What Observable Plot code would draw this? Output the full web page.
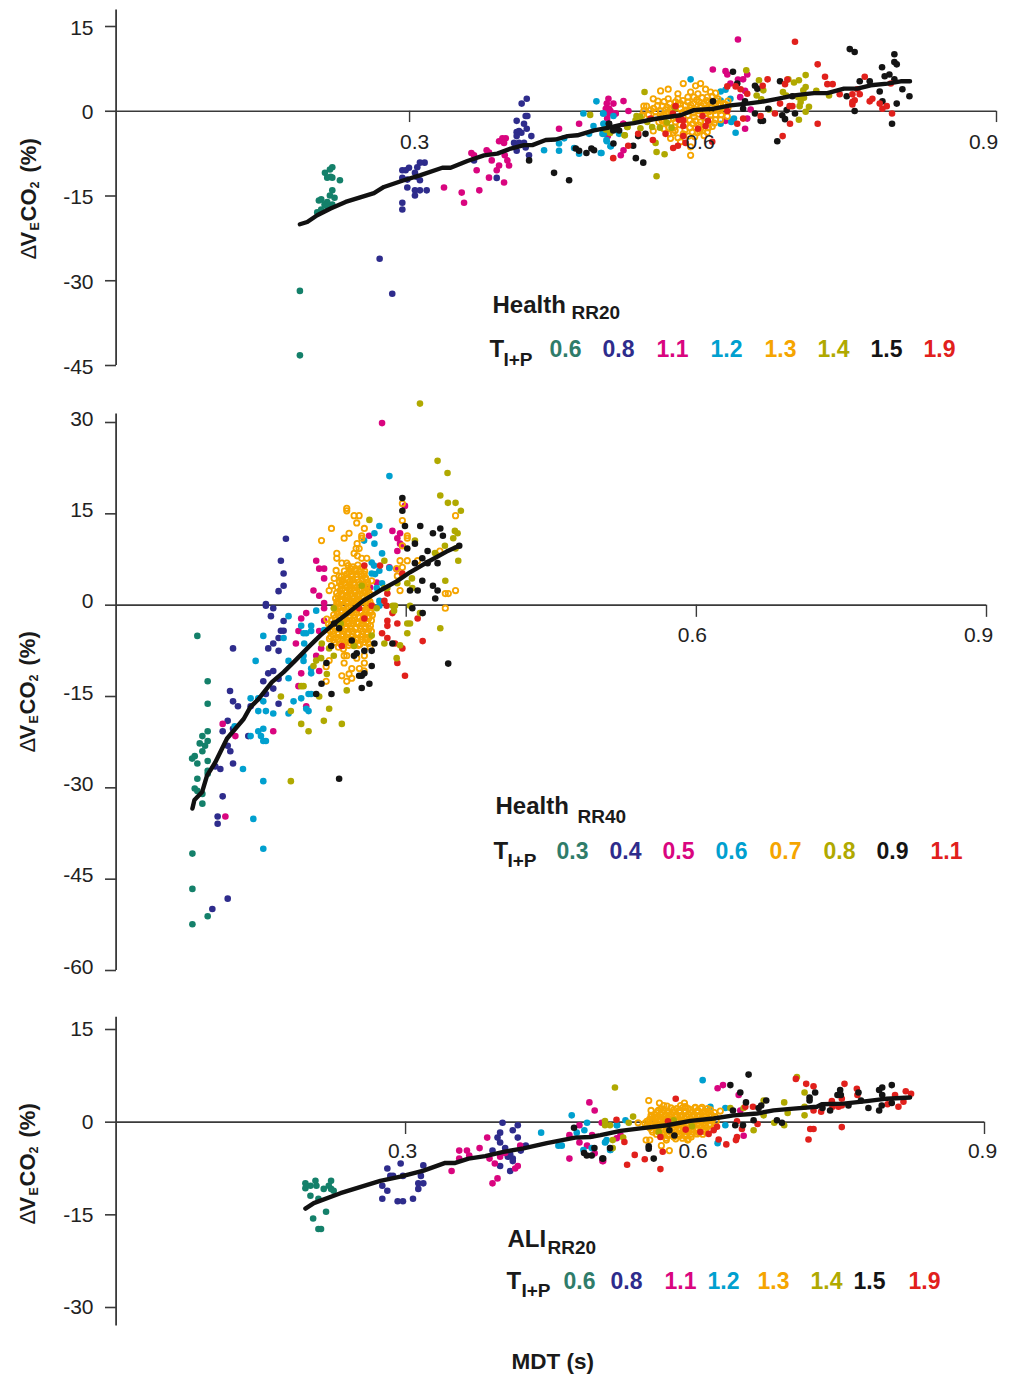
<!DOCTYPE html>
<html><head><meta charset="utf-8">
<script src="https://cdn.jsdelivr.net/npm/d3@7"></script>
<script src="https://cdn.jsdelivr.net/npm/@observablehq/plot@0.6"></script>
<style>
html,body{margin:0;padding:0;background:#fff}
#chart{width:1012px;height:1374px;overflow:hidden}
#chart svg{display:block}
</style></head><body><div id="chart"></div>
<script>
const FONT = '"Liberation Sans", Arial, sans-serif';
const colTeal="#14806a", colNavy="#2e2c8c", colPink="#d9057f", colBlue="#00a0cf", colOrange="#f5a500", colOlive="#b0a900", colBlack="#141414", colRed="#e1201c";
const labelTeal="#2f7c6a";

// ---------- Panel 1: Health RR20 ----------
const h20Teal=[[.221,-9.9],[.2186,-10.3],[.2135,-10.9],[.2193,-11.6],[.2158,-11.75],[.221,-11.75],[.2288,-12.2],[.221,-14],[.2186,-14.9],[.2233,-15.3],[.2097,-15.6],[.2073,-15.8],[.2158,-16.05],[.2131,-16.5],[.221,-16.5],[.2158,-16.9],[.2097,-17.4],[.2056,-17.9],[.1879,-31.8],[.1879,-43.2]];
const h20Navy=[[.4198,2.2],[.4146,1.35],[.4187,-.83],[.4204,-.83],[.4095,-1.7],[.417,-2.2],[.4198,-3.1],[.4119,-3.5],[.4095,-3.7],[.4143,-3.8],[.4095,-4.4],[.4245,-4.4],[.4068,-5.6],[.4119,-5.6],[.417,-5.6],[.4187,-6.4],[.4095,-7],[.4221,-7.8],[.3659,-8.7],[.3891,-11.8],[.3154,-9.1],[.3106,-9.1],[.3079,-9.9],[.2994,-10],[.296,-10.45],[.2926,-10.45],[.3055,-10.9],[.2926,-11.8],[.3072,-11.6],[.3106,-12.2],[.2977,-12.1],[.2977,-13.5],[.3055,-14],[.3106,-14],[.3175,-14],[.3055,-14.9],[.2926,-16.2],[.2926,-17.4],[.2694,-26.1],[.2823,-32.3]];
const h20Pink=[[.3949,-4.8],[.3915,-5.3],[.3983,-4.8],[.3966,-5.6],[.3632,-7.4],[.3659,-7.8],[.3788,-6.9],[.3812,-7.3],[.384,-8.7],[.3973,-7.8],[.4,-8.7],[.4017,-9.6],[.3915,-9.6],[.3891,-10.45],[.3686,-10.45],[.3812,-11.75],[.3966,-12.6],[.3352,-13.5],[.3533,-14.4],[.3713,-14],[.3557,-16.2],[.4528,-3.1],[.4733,-2.2],[.5033,2.2],[.5016,1.35],[.5006,.45],[.5084,1.35],[.5187,1.8],[.504,-.4],[.5108,-.4],[.5238,.05],[.5187,-2.2],[.5159,-7.8],[.5187,-6.9],[.504,.45],[.6357,12.7],[.61,7.4],[.623,7.1],[.6248,6.5],[.6357,5.6],[.641,5.65],[.6452,6.5],[.628,4.9],[.638,2.5],[.643,3.6],[.6452,-1.3],[.643,-3.1],[.6487,.3],[.623,-1.7],[.5054,.05],[.5105,-.4],[.502,-1.3],[.5184,-2.2],[.5027,-4.4]];
const h20Blue=[[.491,1.75],[.4777,-.4],[.4982,-.4],[.5084,-.83],[.488,-2.6],[.458,-4.8],[.4528,-5.7],[.4528,-7],[.4375,-6.9],[.4682,-6.5],[.4733,-7.5],[.4955,-7.4],[.4972,-4],[.4835,-4],[.5016,-5.3],[.5057,-6.2],[.4982,-2.2],[.5142,-4],[.5873,5.65],[.4979,-.4],[.4986,-2.2],[.4986,-4],[.5013,-5.1],[.5054,-6.2],[.4962,-7.4],[.514,-3.7],[.618,1.9],[.623,3.8],[.618,3.5],[.628,2.2],[.6316,-1.3],[.6289,-1.9],[.618,-2.2],[.6333,-3.8],[.6299,-1.6]];
const h20Orange=[[.5798,4.9],[.5975,4.9],[.5924,4.5],[.5644,3.9],[.5566,3.6],[.6026,3.9],[.5873,3.4],[.5743,3.1],[.6077,3.4],[.6128,3.2],[.5948,3.1],[.5491,2.2],[.5644,2.2],[.5743,2.2],[.5845,2.5],[.5907,2.5],[.5992,2.4],[.6043,2.5],[.6094,2.65],[.6152,2.2],[.6255,1.8],[.5395,.9],[.5423,.9],[.5539,1.8],[.5583,.9],[.5661,1.35],[.5719,1.65],[.577,1.35],[.5845,1.65],[.59,1.35],[.5958,1.65],[.601,1.35],[.606,1.65],[.6111,1.35],[.6207,1.35],[.5464,.2],[.5515,-.1],[.5566,.05],[.5617,.3],[.5668,.45],[.577,.45],[.5822,.2],[.5873,.6],[.5924,.3],[.5975,.6],[.6036,.45],[.6084,.6],[.6146,.45],[.6197,.6],[.6255,.6],[.5395,.05],[.5515,-1],[.5573,-1],[.5627,-.5],[.5685,-.7],[.5845,-.7],[.5907,-1],[.5958,-.5],[.6026,-.4],[.6077,-.7],[.6128,-.6],[.6186,-.6],[.6248,-.9],[.5378,-.7],[.5549,-1.9],[.5617,-2.1],[.5719,-1.9],[.5866,-1.6],[.5924,-1.7],[.5975,-1.9],[.6077,-1.5],[.6128,-1.5],[.618,-1.5],[.5491,-3.5],[.56,-3.1],[.5651,-2.9],[.5709,-2.8],[.5866,-2.9],[.5924,-2.9],[.5975,-3.1],[.6094,-2.7],[.5651,-4],[.5695,-3.8],[.5743,-4.7],[.5668,-4.8],[.5798,-4],[.589,-3.7],[.5941,-3.8],[.6043,-3.7],[.601,-4.3],[.5873,-7.8],[.577,-5.4],[.5873,-6.3],
[.5535,1],[.5602,1.7],[.5635,.7],[.5702,.8],[.5745,1.2],[.5795,1.9],[.582,1],[.5875,1.1],[.5935,2],[.598,1],[.6035,1.9],[.6085,1],[.6135,1.9],[.618,1.1],[.623,1.2],[.5445,-.6],[.5495,.5],[.5595,-.6],[.5645,-.1],[.5735,-.3],[.5795,-.2],[.5855,.1],[.5905,-.3],[.5955,.1],[.6005,.1],[.606,-.1],[.611,.1],[.6165,.1],[.622,.1],[.558,-1.6],[.565,-1.5],[.5695,-1.3],[.5765,-2.4],[.582,-2.3],[.5895,-2.2],[.5955,-2.4],[.602,-2],[.6055,-2.9],[.6115,-2.1],[.5715,-3.4],[.5815,-3.3],[.5965,-3.5],[.6,-3.3],[.5855,-4.4],[.5915,-4.5]];
const h20Olive=[[.4846,-.65],[.5006,-3.25],[.505,-3.84],[.5228,-2.8],[.52,-4.25],[.5402,3.4],[.532,-.83],[.536,-1],[.531,-1.6],[.5225,-2.8],[.536,-3],[.5198,-4.25],[.543,-1.9],[.548,-2.8],[.5559,-2.9],[.563,-2],[.5678,-2.9],[.571,.6],[.5515,-5.6],[.5525,-7.2],[.5607,-7.6],[.5525,-11.5],[.6442,7.25],[.6572,5.5],[.6616,3.7],[.6548,2.8],[.6596,2.1],[.6674,.3],[.6872,5.65],[.693,5.1],[.698,5.5],[.7049,6.4],[.7049,4.3],[.7025,3.7],[.6817,3.4],[.6851,2.8],[.6974,2.5],[.7032,2.4],[.6998,1.65],[.6988,.9],[.7083,.8],[.7049,-.1],[.698,-1.5],[.7158,3.6],[.7288,2.8]];
const h20Black=[[.4222,-8.7],[.4477,-10.9],[.4631,-12.2],[.4699,-6.6],[.4733,-7],[.4808,-7.4],[.4859,-6.6],[.4886,-6.9],[.5084,-5.7],[.504,-2.2],[.5091,-3.1],[.5142,-3.4],[.5037,-2.2],[.5082,-3.4],[.5122,-3.1],[.5286,-6.1],[.5337,-4.4],[.5412,-4],[.5313,-8.3],[.5389,-9.1],[.6101,1.75],[.6306,7],[.635,4.9],[.6429,1.75],[.641,.45],[.6531,4.5],[.6555,4],[.6531,-.4],[.6589,-1.7],[.6613,-1.7],[.6667,.45],[.6787,5.3],[.6913,2.65],[.6855,.2],[.681,-.7],[.6838,-1.4],[.694,-.4],[.6759,-5.3],[.75,11],[.755,10.5],[.7602,5.3],[.7704,5.3],[.7469,2.65],[.755,.05],[.7806,3.5],[.7834,1.75],[.783,7.8],[.7857,6.2],[.7905,6.5],[.7956,10.1],[.7956,8.7],[.798,8.3],[.7956,5.65],[.8038,3.9],[.798,1.35],[.811,2.65],[.7932,-2.2]];
const h20Red=[[.694,12.3],[.7172,8.3],[.7247,6.1],[.7271,4.8],[.7325,4.8],[.7653,6.1],[.666,5.65],[.6838,4.8],[.6862,5.6],[.661,4.5],[.6248,4.4],[.6333,4.4],[.6384,3.9],[.6452,3.1],[.6787,1.35],[.6885,.9],[.6913,.9],[.6735,-.4],[.6589,-.83],[.6889,-2.2],[.7172,-2.2],[.6814,-4.4],[.641,-1.3],[.635,-2.2],[.6248,.05],[.7397,3],[.7527,3],[.7602,3],[.7527,1.65],[.755,1.95],[.7527,1.2],[.7704,1.75],[.7731,2.2],[.7578,3.9],[.7806,1.35],[.7834,.45],[.7878,.9],[.7932,-.4],[.7919,4.9],[.5719,.9],[.5692,-.4],[.5753,-1.5],[.5798,-1.6],[.5798,-2.6],[.577,-1],[.5995,-.83],[.605,-1.7],[.6026,-2.6],[.5948,-3.1],[.5617,-4],[.5798,-4.4],[.5487,-5.1],[.5743,-6.1],[.5695,-6.5],[.5464,-1.3],[.5337,-4],[.5235,-6.1],[.5082,-8.3],[.6094,-5.4],[.5822,-5.6]];
const h20Line=[[.1879,-20],[.1954,-19.6],[.2056,-18.4],[.2193,-17.2],[.2346,-16.05],[.2636,-14.5],[.2738,-13.4],[.2926,-12.3],[.3113,-11.3],[.3335,-10],[.342,-10],[.3591,-8.8],[.3761,-7.8],[.3897,-7.5],[.4034,-6.6],[.417,-6],[.4255,-6],[.4392,-5.1],[.4494,-5],[.4614,-4.4],[.4716,-4.25],[.4886,-3.4],[.504,-2.9],[.5159,-2.4],[.5293,-2.1],[.5429,-1.6],[.56,-1.1],[.577,-.7],[.5907,.2],[.6111,.45],[.6282,1.05],[.6452,1.35],[.6589,1.65],[.676,2.2],[.693,2.8],[.7134,3.2],[.7271,3.2],[.7441,4],[.7578,4],[.7714,4.6],[.7885,4.9],[.8021,5.3],[.8116,5.3]];

// ---------- Panel 2: Health RR40 ----------
const h40Teal=[[.084,-5.05],[.0947,-12.5],[.0947,-16.2],[.0947,-20.7],[.0892,-21.5],[.0947,-22.3],[.0865,-22.7],[.092,-23.1],[.0892,-24],[.0813,-24.8],[.0786,-25.2],[.084,-26],[.0947,-25.6],[.0947,-27.2],[.0947,-27.7],[.084,-28.5],[.0813,-30.1],[.084,-30.5],[.0892,-31],[.0892,-32.6],[.0789,-40.8],[.0789,-46.6],[.0947,-51.1],[.0789,-52.4]];
const h40Navy=[[.1756,10.9],[.1704,7.3],[.1732,5.2],[.1732,3.2],[.168,2.3],[.1549,.2],[.1549,-.1],[.1625,-.5],[.1601,-1.8],[.1732,-2.6],[.1704,-4.2],[.1732,-4.2],[.168,-5.4],[.1625,-6.3],[.1573,-7.1],[.168,-7.5],[.1209,-7.1],[.1625,-10.8],[.1573,-11.2],[.1522,-12.5],[.168,-12.1],[.1625,-13.7],[.1549,-14.6],[.1178,-14.1],[.1209,-15.8],[.126,-16.6],[.168,-16.2],[.1391,-16.6],[.1154,-19],[.1102,-20.7],[.1209,-20.3],[.1367,-21.5],[.1154,-23.1],[.1181,-24],[.1209,-26],[.1078,-26.9],[.1026,-26.5],[.1102,-31.4],[.105,-34.7],[.105,-35.9],[.1154,-48.2],[.0995,-49.9]];
const h40Pink=[[.275,29.9],[.2987,16.3],[.2616,11.4],[.2857,12.2],[.2936,11.8],[.2908,11],[.2936,10.1],[.296,9.75],[.2908,8.9],[.2069,7.3],[.21,6],[.2151,6],[.2151,4.4],[.2041,2.4],[.21,1.55],[.2151,.35],[.2151,-.5],[.1966,-1.3],[.1914,-2.2],[.2151,-2.55],[.1886,-4.25],[.21,-4.25],[.1859,-6.3],[.212,-7.1],[.2069,-8.3],[.1914,-11.2],[.21,-10.8],[.1886,-13.3],[.2826,6.2],[.2695,3.7],[.2901,5.9],[.2626,2.9],[.1102,-19.5],[.1233,-21.5],[.1625,-20.7],[.1966,-16.6],[.113,-34.7]];
const h40Blue=[[.2826,21.2],[.2722,13],[.2671,11.8],[.2564,10.6],[.2671,10.1],[.275,8.5],[.2643,7],[.2667,6.5],[.2722,5.65],[.2643,5.2],[.2678,5.1],[.2826,6.1],[.275,3.6],[.2695,2.8],[.2722,.7],[.2722,-.1],[.2069,-.9],[.1783,-1.8],[.1914,-3.4],[.2017,-3.4],[.1938,-4.6],[.1966,-4.6],[.2017,-4.25],[.2151,-4.1],[.1522,-5.05],[.1732,-5.4],[.1945,-6.3],[.1443,-9.15],[.1783,-9.15],[.1938,-8.3],[.1938,-9.15],[.2017,-10.4],[.2017,-11.2],[.1783,-12],[.1391,-15.3],[.147,-15.3],[.1522,-15.8],[.1835,-15.8],[.1914,-15.3],[.199,-14.6],[.2017,-14.6],[.147,-17.4],[.1549,-17.4],[.1625,-17.8],[.1783,-17.8],[.1966,-17],[.199,-17.4],[.1226,-19.9],[.1391,-21.5],[.147,-20.7],[.1522,-20.3],[.1498,-21.5],[.1522,-22.3],[.1549,-22.3],[.1312,-26.9],[.1522,-28.9],[.1419,-35.1],[.1522,-40]];
const h40Orange=[[.2385,15.9],[.2385,15.5],[.2461,14.7],[.2513,14.7],[.2488,13.5],[.2227,12.6],[.2567,12.6],[.2409,11.8],[.2358,11],[.2124,10.6],[.254,11.4],[.254,11],[.2492,10.1],[.2513,9.3],[.2482,9.3],[.2282,8.5],[.2282,7.7],[.2461,8.5],[.2495,8.1],[.254,7.7],[.2592,7.7],[.2334,6.9],[.2385,6.9],[.296,16.7],[.351,14.7],[.296,13.9],[.3011,11.4],[.3011,11],[.2936,7.3],[.3011,7.3],[.296,9.75],[.2901,6],[.296,6.2],[.2908,4.8],[.2936,2.4],[.3404,1.9],[.3435,1.9],[.351,2.4],[.3404,-.5],[.3348,8.9],[.3118,7.3],[.2643,4],[.2255,4.4],[.2227,3.2],[.2203,2.4],[.2275,5.7],[.2306,4.8],[.2334,4],[.2334,1.55],[.2282,.2],[.2203,-9.1],[.2172,-10.1],[.2358,-8.3],[.2358,-9.5],[.2385,-8.3],[.2437,-10.4],[.2516,-10.4],[.2567,-9.5],[.2567,-8.3],[.2488,-8.7],[.2409,-11.3],[.2437,-12],[.2385,-12.5],[.2334,-11.6],[.2172,-12.5],[.2564,-10.8],[.2299,-6.9],[.235,-7.2],[.2196,-3.1],[.2213,-4.2],[.2206,-5.5],[.2179,-2.3],[.2626,-6.9],
[.24,6.5],[.245,6.3],[.25,6.6],[.255,6.2],[.236,5.6],[.241,5.4],[.247,5.7],[.252,5.5],[.257,5.6],[.233,4.7],[.238,4.5],[.243,4.8],[.249,4.6],[.254,4.8],[.258,4.5],[.231,3.8],[.236,3.6],[.242,3.9],[.246,3.7],[.251,3.8],[.256,3.5],[.26,3.8],[.229,2.9],[.234,2.7],[.239,3],[.244,2.8],[.249,2.9],[.254,2.6],[.259,2.9],[.228,2],[.233,1.8],[.238,2.1],[.243,1.9],[.247,2],[.252,1.8],[.257,2.1],[.262,1.9],[.227,1.1],[.232,.9],[.237,1.2],[.241,1],[.246,1.1],[.251,.9],[.256,1.2],[.261,1],[.23,.2],[.235,0],[.24,.3],[.245,.1],[.25,.2],[.255,-.1],[.26,.2],[.264,0],[.227,-.7],[.233,-.9],[.238,-.6],[.243,-.8],[.248,-.7],[.253,-1],[.258,-.7],[.263,-.9],[.225,-1.6],[.231,-1.8],[.236,-1.5],[.241,-1.7],[.246,-1.6],[.251,-1.9],[.256,-1.6],[.261,-1.8],[.265,-1.6],[.223,-2.5],[.229,-2.7],[.234,-2.4],[.239,-2.6],[.244,-2.5],[.249,-2.8],[.254,-2.5],[.259,-2.7],[.264,-2.5],[.222,-3.4],[.228,-3.6],[.233,-3.3],[.238,-3.5],[.243,-3.4],[.248,-3.7],[.253,-3.4],[.258,-3.6],[.263,-3.4],[.224,-4.3],[.23,-4.5],[.235,-4.2],[.24,-4.4],[.245,-4.3],[.25,-4.6],[.255,-4.3],[.26,-4.5],[.264,-4.3],[.222,-5.2],[.227,-5.4],[.233,-5.1],[.238,-5.3],[.243,-5.2],[.248,-5.5],[.253,-5.2],[.258,-5.4],[.262,-5.2],[.226,-6.1],[.232,-6.3],[.237,-6],[.242,-6.2],[.247,-6.1],[.252,-6.4],[.257,-6.1],[.261,-6.3],
[.2425,6],[.2475,6],[.2525,6],[.2385,5.1],[.2435,5.1],[.2485,5.1],[.2535,5.1],[.2565,5.1],[.2345,4.2],[.2395,4.2],[.2445,4.2],[.2495,4.2],[.2545,4.2],[.2585,4.2],[.2325,3.3],[.2375,3.3],[.2415,3.3],[.2465,3.3],[.2515,3.3],[.2565,3.3],[.2595,3.3],[.2315,2.4],[.2365,2.4],[.2415,2.4],[.2465,2.4],[.2515,2.4],[.2565,2.4],[.2605,2.4],[.2295,1.5],[.2345,1.5],[.2395,1.5],[.2445,1.5],[.2495,1.5],[.2545,1.5],[.2595,1.5],[.2285,.6],[.2335,.6],[.2385,.6],[.2435,.6],[.2485,.6],[.2535,.6],[.2585,.6],[.2625,.6],[.2305,-.3],[.2355,-.3],[.2405,-.3],[.2455,-.3],[.2505,-.3],[.2555,-.3],[.2605,-.3],[.2285,-1.2],[.2335,-1.2],[.2385,-1.2],[.2435,-1.2],[.2485,-1.2],[.2535,-1.2],[.2585,-1.2],[.2635,-1.2],[.2265,-2.1],[.2315,-2.1],[.2365,-2.1],[.2415,-2.1],[.2465,-2.1],[.2515,-2.1],[.2565,-2.1],[.2615,-2.1],[.2255,-3],[.2305,-3],[.2355,-3],[.2405,-3],[.2455,-3],[.2505,-3],[.2555,-3],[.2605,-3],[.2265,-3.9],[.2325,-3.9],[.2375,-3.9],[.2425,-3.9],[.2475,-3.9],[.2525,-3.9],[.2575,-3.9],[.2615,-3.9],[.2245,-4.8],[.2295,-4.8],[.2345,-4.8],[.2395,-4.8],[.2445,-4.8],[.2495,-4.8],[.2545,-4.8],[.2595,-4.8],[.2245,-5.7],[.2295,-5.7],[.2345,-5.7],[.2395,-5.7],[.2445,-5.7],[.2495,-5.7],[.2545,-5.7],[.2595,-5.7],[.2355,-6.6],[.2405,-6.6],[.2455,-6.6],[.2505,-6.6]];
const h40Red=[[.2567,6.5],[.2729,6.5],[.296,5.2],[.2805,1.9],[.2774,.7],[.2798,-.1],[.2643,-.1],[.2513,-.5],[.2857,-1.3],[.3118,-2.2],[.2567,-2.2],[.2805,-2.55],[.2908,-3],[.2805,-3.4],[.275,-4.6],[.2805,-5.4],[.317,-5.9],[.2884,-6.3],[.296,-7.1],[.2334,-6.7],[.2908,-9.5],[.2987,-11.6]];
const h40Olive=[[.3142,33.1],[.3324,23.7],[.3427,21.7],[.3352,18],[.3431,16.8],[.351,16.8],[.3565,15.5],[.2619,14],[.3503,12.2],[.3531,11.8],[.3486,11],[.309,10.6],[.34,9.75],[.3297,8.55],[.351,9.3],[.3538,7.3],[.2774,7.3],[.3059,4.4],[.3011,3.6],[.2908,3.6],[.3404,4],[.254,3.2],[.2774,2.8],[.2805,2.8],[.3063,2.8],[.286,-.1],[.2884,-.1],[.2874,-.9],[.3039,-.1],[.2695,-.5],[.3142,-1.3],[.2251,-.5],[.3011,-3],[.3039,-3],[.2323,-3],[.3352,-3.8],[.3011,-4.6],[.2643,-5],[.2774,-6.3],[.2936,-6.6],[.2127,-6.3],[.2203,-7.1],[.2461,-6.7],[.2251,-8.3],[.212,-8.7],[.2069,-9.1],[.2041,-10],[.2901,-8.7],[.2179,-11.3],[.1914,-13.3],[.1938,-13.3],[.2385,-14],[.1704,-15],[.21,-15],[.2203,-17],[.1807,-17.4],[.1914,-19.5],[.2148,-19],[.2334,-19.5],[.199,-20.7],[.1807,-28.9]];
const h40Black=[[.296,17.6],[.296,15.5],[.2987,13],[.3145,13],[.3221,8.9],[.3276,11.8],[.3352,12.6],[.3379,11.4],[.309,10.1],[.3011,9.3],[.3166,7.7],[.309,6.9],[.3221,6.9],[.3324,6.9],[.3548,9.75],[.3166,4],[.3276,3.2],[.3324,2.4],[.3118,2.4],[.3039,2.4],[.33,1.1],[.3063,-.5],[.317,-1.3],[.3434,-9.6],[.2255,-3],[.2306,-3.8],[.2437,-5.8],[.2671,-6.3],[.2857,-6.3],[.2224,-6.7],[.2488,-7.9],[.246,-8.3],[.2567,-7.5],[.2643,-7.5],[.2175,-9.5],[.2643,-10],[.254,-11.6],[.2567,-11.2],[.2513,-11.6],[.2619,-12.9],[.2124,-12.9],[.254,-13.6],[.2069,-14.6],[.2227,-14.6],[.2306,-28.5]];
const h40Line=[[.0789,-33.4],[.081,-32],[.0889,-30.7],[.094,-28],[.1026,-25.8],[.1147,-21.9],[.1319,-18.7],[.1388,-16.75],[.1474,-15.4],[.1611,-12.65],[.1732,-11],[.1852,-9.1],[.2007,-6.6],[.211,-5],[.2248,-3.1],[.2385,-1.45],[.2557,.75],[.2729,2.4],[.2901,3.9],[.3039,5.4],[.3211,7],[.3417,8.8],[.3548,9.75]];

// ---------- Panel 3: ALI RR20 ----------
const a20Teal=[[.1962,-9.9],[.1962,-10.7],[.2014,-10.3],[.2066,-9.5],[.2076,-10.3],[.2152,-10.8],[.2204,-10.3],[.2228,-9.5],[.2255,-11.1],[.2228,-10.8],[.2014,-11.9],[.2097,-12.4],[.2176,-14.5],[.2042,-15.6],[.2097,-17.3],[.2124,-17.3]];
const a20Navy=[[.2811,-7.5],[.2949,-6.7],[.3184,-7],[.2842,-8.7],[.287,-8.7],[.2973,-8.7],[.3159,-8.7],[.3132,-9.9],[.3184,-9.9],[.3132,-10.8],[.2759,-10.3],[.2811,-11.1],[.2759,-12.4],[.2918,-12.8],[.2973,-12.8],[.3077,-12.4],[.4005,-.1],[.4163,-.5],[.4111,-1.3],[.398,-1.7],[.3953,-2.5],[.4163,-2.5],[.398,-3.3],[.4032,-4.2],[.3901,-4.6],[.4246,-3.8],[.4194,-4.6],[.4084,-5.2],[.406,-5.6],[.4111,-5.9],[.4111,-6.3],[.398,-7.1],[.4084,-7.9]];
const a20Pink=[[.4905,3.2],[.496,1.9],[.4802,-.5],[.4698,-2.1],[.4802,-3.3],[.4933,-2.1],[.4881,-3.8],[.4698,-5.9],[.504,-6.3],[.496,-5.05],[.5188,-2.6],[.5033,-.1],[.3556,-4.6],[.3636,-4.6],[.366,-5.4],[.3556,-5.9],[.3767,-4.2],[.3846,-2.5],[.387,-5.9],[.3925,-6.7],[.3477,-7.9],[.3953,-9.1],[.3901,-9.9],[.398,-5.6],[.4136,-7.5],[.4163,-7.1],[.4188,-3.8],[.4032,-5],[.6234,5.5],[.629,6],[.6452,4.4],[.6504,-2.2],[.6469,1.9],[.5048,-6.3],[.5227,-2.1]];
const a20Blue=[[.4405,-1.7],[.4722,1.1],[.4881,-.1],[.4774,-1.7],[.4853,-1.3],[.4584,-3.8],[.4619,-3.8],[.4843,-4.5],[.4929,-4.2],[.5067,-3.3],[.5119,-4.5],[.5084,-2.9],[.5188,-.5],[.6079,6.8],[.6159,2.5],[.6314,2.3],[.6314,-.5],[.6234,-3.4],[.5072,-3.2],[.5124,-4.5],[.5193,-.5],[.5279,.3]];
const a20Orange=[[.552,3.5],[.5631,3.1],[.5676,2.7],[.589,3.1],[.6003,2.4],[.6072,2.4],[.6262,1.8],[.541,-.1],[.5493,-2.9],[.5531,-2.9],[.5651,-3.8],[.5734,-4.6],[.5924,-2.9],[.5703,-2.9],[.5544,1.9],[.5544,1.1],
[.571,2.6],[.585,2.7],[.59,2.5],[.562,1.9],[.567,2],[.572,1.8],[.578,2],[.584,1.9],[.59,1.8],[.596,2],[.603,1.9],[.61,1.8],[.616,2],[.558,1.2],[.564,1.3],[.57,1.1],[.575,1.3],[.581,1.2],[.587,1.1],[.593,1.3],[.599,1.2],[.605,1.1],[.611,1.3],[.617,1.2],[.553,.5],[.559,.6],[.565,.4],[.571,.6],[.577,.5],[.583,.4],[.589,.6],[.595,.5],[.601,.4],[.607,.6],[.613,.5],[.618,.4],[.548,-.2],[.555,-.1],[.561,-.3],[.567,-.1],[.573,-.2],[.579,-.3],[.585,-.1],[.591,-.2],[.597,-.3],[.603,-.1],[.609,-.2],[.615,-.3],[.553,-.9],[.559,-.8],[.565,-1],[.571,-.8],[.577,-.9],[.583,-1],[.589,-.8],[.595,-.9],[.601,-1],[.607,-.8],[.612,-.9],[.556,-1.6],[.562,-1.5],[.568,-1.7],[.574,-1.5],[.58,-1.6],[.586,-1.7],[.592,-1.5],[.598,-1.6],[.604,-1.7],[.61,-1.5],[.565,-2.3],[.572,-2.2],[.578,-2.4],[.584,-2.2],[.59,-2.3],[.596,-2.4],
[.565,2.2],[.575,2.3],[.581,2.2],[.587,2.3],[.593,2.2],[.6,2.3],[.606,2.2],[.613,2.2],[.56,1.55],[.566,1.6],[.573,1.55],[.578,1.6],[.584,1.55],[.59,1.6],[.596,1.55],[.602,1.6],[.608,1.55],[.614,1.6],[.62,1.55],[.555,.85],[.561,.9],[.567,.85],[.573,.9],[.579,.85],[.585,.9],[.591,.85],[.597,.9],[.603,.85],[.609,.9],[.615,.85],[.621,.9],[.55,.15],[.556,.2],[.562,.15],[.568,.2],[.574,.15],[.58,.2],[.586,.15],[.592,.2],[.598,.15],[.604,.2],[.61,.15],[.616,.2],[.622,.15],[.55,-.55],[.556,-.5],[.562,-.55],[.568,-.5],[.574,-.55],[.58,-.5],[.586,-.55],[.592,-.5],[.598,-.55],[.604,-.5],[.61,-.55],[.616,-.5],[.555,-1.25],[.561,-1.2],[.567,-1.25],[.573,-1.2],[.579,-1.25],[.585,-1.2],[.591,-1.25],[.597,-1.2],[.603,-1.25],[.609,-1.2],[.615,-1.25],[.56,-1.95],[.566,-1.9],[.572,-1.95],[.578,-1.9],[.584,-1.95],[.59,-1.9],[.596,-1.95],[.602,-1.9],[.608,-1.95],[.57,-2.6],[.58,-2.7],[.587,-2.6],[.593,-2.7]];
const a20Olive=[[.517,5.6],[.5067,.2],[.5067,-.5],[.5119,-.5],[.5147,-2.9],[.5147,-4.2],[.5313,-.1],[.5358,.9],[.5255,-2.5],[.7056,7.3],[.7135,4.8],[.6924,3.2],[.6711,3.5],[.6366,2.3],[.6504,2.3],[.7135,1.1],[.696,1.5],[.7135,2.5],[.6711,1.1],[.6821,-.1],[.6924,-.5],[.6607,-1.3],[.5624,-1.6],[.5969,-.65],[.5779,.3]];
const a20Black=[[.4746,-.9],[.485,-5],[.4878,-5.4],[.4929,-5.4],[.4957,-4.2],[.504,-5.9],[.5119,-4.2],[.5048,-5.9],[.552,-3.9],[.552,-4.3],[.5572,-5.9],[.5734,-1.3],[.5786,-2.15],[.6366,6],[.6469,4.8],[.6555,7.7],[.6528,3.2],[.6393,1.9],[.6686,2.7],[.6659,2.3],[.6738,3.5],[.6607,.3],[.6497,-.5],[.6417,-.5],[.6849,.3],[.6901,-.1],[.7245,4.8],[.7187,4],[.7187,3.5],[.7504,5.2],[.7476,4.4],[.7511,4.4],[.7694,4.8],[.7321,2.3],[.74,1.9],[.759,2.7],[.772,3.5],[.7797,2.3],[.7908,5.2],[.794,5.6],[.8039,6],[.794,4.4],[.7935,2.7],[.7908,1.9],[.8039,3.1]];
const a20Red=[[.58,3.8],[.7045,7],[.7152,6.2],[.7228,5.8],[.7549,6.2],[.7677,5.4],[.7683,4.4],[.8184,5],[.8239,4.6],[.8073,4.4],[.7418,3.4],[.7521,3.8],[.7521,2.7],[.7425,2.5],[.7228,1.9],[.7307,1.7],[.7487,2.5],[.816,3.3],[.8108,2.5],[.7995,2.9],[.7521,-.8],[.7194,-1.1],[.7228,-1.1],[.7176,-2.8],[.66,2.5],[.6521,2.5],[.6648,-.3],[.6435,.15],[.6486,-1.1],[.6435,-2.4],[.6424,-2.9],[.6324,-3.6],[.6245,-2.8],[.6228,-.75],[.6193,-1.3],[.6141,-1.9],[.6055,-1.6],[.5903,-1.2],[.572,.15],[.5641,-2.4],[.5665,-4.8],[.5479,-6],[.5375,-5.3],[.5296,-6.9],[.5641,-7.6],[.5268,-3.2],[.5186,.4]];
const a20Line=[[.1962,-14],[.2049,-13.1],[.2325,-11.5],[.2738,-9.5],[.2946,-8.8],[.3187,-7.85],[.3411,-6.6],[.3515,-6.6],[.3653,-5.9],[.3825,-5.5],[.4015,-4.8],[.4222,-4.25],[.4464,-3.4],[.4757,-2.5],[.4912,-2.4],[.502,-2.1],[.5227,-1.4],[.5434,-1],[.571,-.5],[.5952,.2],[.6193,.6],[.64,1.1],[.6642,1.4],[.6814,1.9],[.7021,2.2],[.7263,2.5],[.7314,2.9],[.7539,3],[.778,3.4],[.7987,3.8],[.8229,4]];

const xTicks=[.3,.6,.9];
const h20YTicks=[15,0,-15,-30,-45], h40YTicks=[30,15,0,-15,-30,-45,-60], a20YTicks=[15,0,-15,-30];
const h20Legend=["0.6","0.8","1.1","1.2","1.3","1.4","1.5","1.9"];
const h40Legend=["0.3","0.4","0.5","0.6","0.7","0.8","0.9","1.1"];
const a20Legend=h20Legend;
const legendColors=[labelTeal,colNavy,colPink,colBlue,colOrange,colOlive,colBlack,colRed];

const AXIS_LEFT=116, INK="#1a1a1a", AXIS_INK="#3a3a3a";

function note(top,txt,px,py,size,opts={}){
  return Plot.text([txt],{text:d=>d,frameAnchor:"top-left",dx:px-AXIS_LEFT,dy:py-top,textAnchor:opts.anchor||"start",lineAnchor:"bottom",fontSize:size,fontWeight:opts.weight||"bold",fill:opts.fill||INK,rotate:opts.rotate||0});
}
function yTitle(top,baseX,b){
  const r={rotate:-90};
  return [
    note(top,"Δ",baseX,b,22,{...r,weight:"normal"}),
    note(top,"V",baseX,b-13,22,r),
    note(top,"E",baseX+3,b-29,12.5,r),
    note(top,"CO",baseX,b-38,22,r),
    note(top,"2",baseX+3,b-71,12.5,r),
    note(top,"(%)",baseX,b-87,22,r)
  ];
}
function dots(data,color){return Plot.dot(data,{x:d=>d[0],y:d=>d[1],r:3.3,fill:color});}
function rings(data){return Plot.dot(data,{x:d=>d[0],y:d=>d[1],r:2.7,fill:"none",stroke:colOrange,strokeWidth:1.8});}
function curve(data){return Plot.line(data,{x:d=>d[0],y:d=>d[1],stroke:"#111",strokeWidth:4.4,strokeLinejoin:"round",strokeLinecap:"round"});}
function xLabel(v,dx,dy){return Plot.text([v],{x:d=>d,y:0,text:d=>String(d),dx,dy,fontSize:21,fill:"#222"});}
function legend(top,items,xs,baseY){
  return items.map((t,i)=>note(top,t,xs[i],baseY,23,{fill:legendColors[i]}));
}
function panel(o){
  const svg=Plot.plot({
    width:1012,height:o.height,
    marginLeft:AXIS_LEFT,marginRight:0,marginTop:0,marginBottom:0,
    style:{fontFamily:FONT,background:"#fff",overflow:"visible"},
    x:{domain:[0,.9],range:[AXIS_LEFT-.4,o.xEnd],axis:null},
    y:{domain:o.yDomain,range:o.yRange,axis:null},
    marks:[
      Plot.ruleY([0],{x1:0,x2:.9,stroke:AXIS_INK,strokeWidth:1.6}),
      Plot.ruleX([0],{y1:o.yAxisBottom,y2:o.yAxisTop,stroke:AXIS_INK,strokeWidth:1.8}),
      Plot.ruleX(xTicks,{y1:0,y2:o.xTickEnd,stroke:AXIS_INK,strokeWidth:1.4}),
      Plot.axisY({ticks:o.yTicks,tickSize:11,text:null,label:null,stroke:AXIS_INK,strokeWidth:1.6}),
      Plot.axisY({ticks:o.yTicks,tickFormat:d=>String(d),tickSize:0,tickPadding:23,dy:o.yLabelDy,fontSize:21,label:null,fill:"#222"}),
      ...o.layers,
      ...o.notes
    ]
  });
  svg.style.display="block";
  document.getElementById("chart").appendChild(svg);
}

// Panel 1
panel({height:390,xEnd:996,yDomain:[-45,15],yRange:[365,26],yAxisTop:17.9,yAxisBottom:-45,xTickEnd:-2,yTicks:h20YTicks,yLabelDy:1.5,
  layers:[dots(h20Teal,colTeal),dots(h20Navy,colNavy),dots(h20Pink,colPink),dots(h20Blue,colBlue),rings(h20Orange),dots(h20Olive,colOlive),dots(h20Black,colBlack),dots(h20Red,colRed),curve(h20Line),
    xLabel(.3,5,31),xLabel(.6,-3,31),xLabel(.9,-13,31)],
  notes:[...yTitle(0,35,259),note(0,"Health",492,312,24),note(0,"RR20",571,318,19),note(0,"T",489,356,24),note(0,"I+P",503,365,19),
    ...legend(0,h20Legend,[549,602,656,710,764,817,870,923],356)]
});
// Panel 2
panel({height:590,xEnd:986,yDomain:[-60,30],yRange:[970-390,422-390],yAxisTop:31.4,yAxisBottom:-60,xTickEnd:-2,yTicks:h40YTicks,yLabelDy:-3.5,
  layers:[dots(h40Teal,colTeal),dots(h40Navy,colNavy),dots(h40Pink,colPink),dots(h40Blue,colBlue),rings(h40Orange),dots(h40Red,colRed),dots(h40Olive,colOlive),dots(h40Black,colBlack),curve(h40Line),
    xLabel(.6,-4,30),xLabel(.9,-8,30)],
  notes:[...yTitle(390,34,752),note(390,"Health",495,813,24),note(390,"RR40",577,822,19),note(390,"T",493,858,24),note(390,"I+P",507,866,19),
    ...legend(390,h40Legend,[556,609,662,715,769,823,876,930],858)]
});
// Panel 3
panel({height:394,xEnd:984,yDomain:[-30,15],yRange:[1307-980,1029-980],yAxisTop:17,yAxisBottom:-33,xTickEnd:-2,yTicks:a20YTicks,yLabelDy:0,
  layers:[dots(a20Teal,colTeal),dots(a20Navy,colNavy),dots(a20Pink,colPink),dots(a20Blue,colBlue),rings(a20Orange),dots(a20Olive,colOlive),dots(a20Red,colRed),dots(a20Black,colBlack),curve(a20Line),
    xLabel(.3,-3,29),xLabel(.6,-2,29),xLabel(.9,-2,29)],
  notes:[...yTitle(980,34,1224),note(980,"ALI",507,1246,24),note(980,"RR20",547,1253,19),note(980,"T",506,1288,24),note(980,"I+P",521,1296,19),
    ...legend(980,a20Legend,[563,610,664,707,757,810,853,908],1288),
    note(980,"MDT (s)",511,1368,22.5)]
});
</script></body></html>
